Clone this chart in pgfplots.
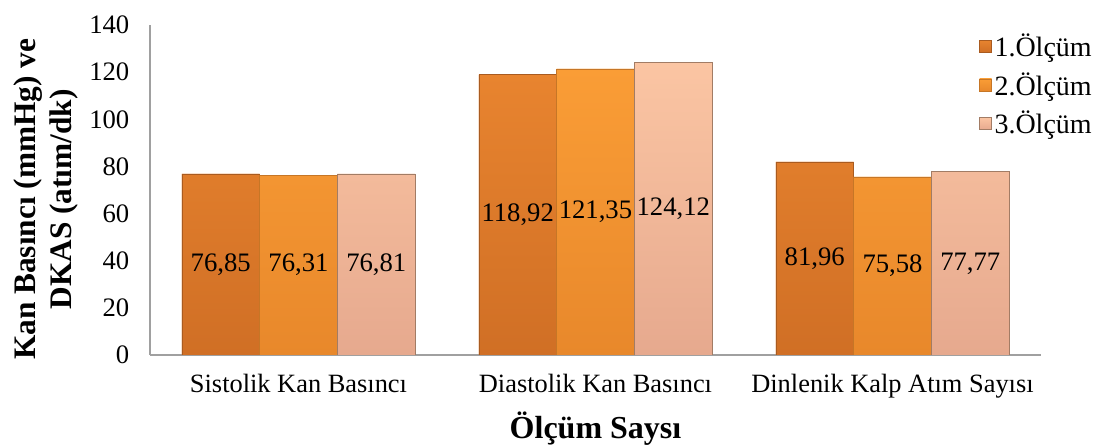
\documentclass[border=0pt]{standalone}
\usepackage{pgfplots}
\pgfplotsset{compat=1.18}
\usepackage{fontspec}
\setmainfont{Liberation Serif}
\definecolor{cA}{HTML}{E27A2B}
\definecolor{cAt}{HTML}{E8842F}
\definecolor{cAb}{HTML}{D06F25}
\definecolor{cB}{HTML}{F7942F}
\definecolor{cBt}{HTML}{FA9D36}
\definecolor{cBb}{HTML}{E8882B}
\definecolor{cC}{HTML}{F9BF9B}
\definecolor{cCt}{HTML}{FBC5A3}
\definecolor{cCb}{HTML}{E6A98E}
\definecolor{axgray}{HTML}{A0A0A0}
\begin{document}
\begin{tikzpicture}[x=1pt,y=1pt]
\useasboundingbox (-112.5,-67.5) rectangle (710.25,266.25);
\begin{axis}[
  at={(0,0)}, anchor=south west,
  scale only axis, width=668.25pt, height=247.5pt,
  xmin=-0.5, xmax=2.5, ymin=0, ymax=140,
  ybar=0pt, bar width=0.262,
  xtick={0,1,2},
  xticklabels={Sistolik Kan Basıncı, Diastolik Kan Basıncı, Dinlenik Kalp Atım Sayısı},
  ytick={0,20,...,140},
  axis x line*=bottom, axis y line*=left,
  axis line style={-, draw=axgray, line width=0.8pt},
  major tick length=0pt,
  /pgf/number format/assume math mode=true,
  yticklabel style={font=\fontsize{20}{20}\selectfont, xshift=-12pt},
  xticklabel style={font=\fontsize{19.8}{20}\selectfont, yshift=-11pt},
  xlabel={\textbf{Ölçüm Saysı}},
  xlabel style={font=\fontsize{24}{24}\selectfont, yshift=-3pt},
  ylabel={\textbf{Kan Basıncı (mmHg) ve}\\\textbf{DKAS (atım/dk)}},
  ylabel style={font=\fontsize{23.5}{27}\selectfont, align=center, yshift=1.5pt, xshift=-7pt},
  visualization depends on={y \as \rawy},
  nodes near coords={\pgfmathprintnumber[fixed,fixed zerofill,precision=2,use comma]{\pgfplotspointmeta}},
  nodes near coords style={font=\fontsize{20}{20}\selectfont, anchor=center, shift={(axis direction cs:0,-\rawy/2)}},
  legend style={at={(rel axis cs:0.926,0.99)}, anchor=north west, draw=none, fill=none,
    font=\fontsize{21}{21}\selectfont, row sep=6.5pt},
  legend cell align=left,
  legend image code/.code={\draw[#1, line width=0.4pt] (0pt,-4.5pt) rectangle (9pt,4.5pt);},
]
\addplot[fill=cA, top color=cAt, bottom color=cAb, draw=cA!75!black] coordinates {(0,76.85) (1,118.92) (2,81.96)};
\addplot[fill=cB, top color=cBt, bottom color=cBb, draw=cB!80!black] coordinates {(0,76.31) (1,121.35) (2,75.58)};
\addplot[fill=cC, top color=cCt, bottom color=cCb, draw=cC!65!black] coordinates {(0,76.81) (1,124.12) (2,77.77)};
\legend{1.Ölçüm, 2.Ölçüm, 3.Ölçüm}
\end{axis}
\end{tikzpicture}
\end{document}
